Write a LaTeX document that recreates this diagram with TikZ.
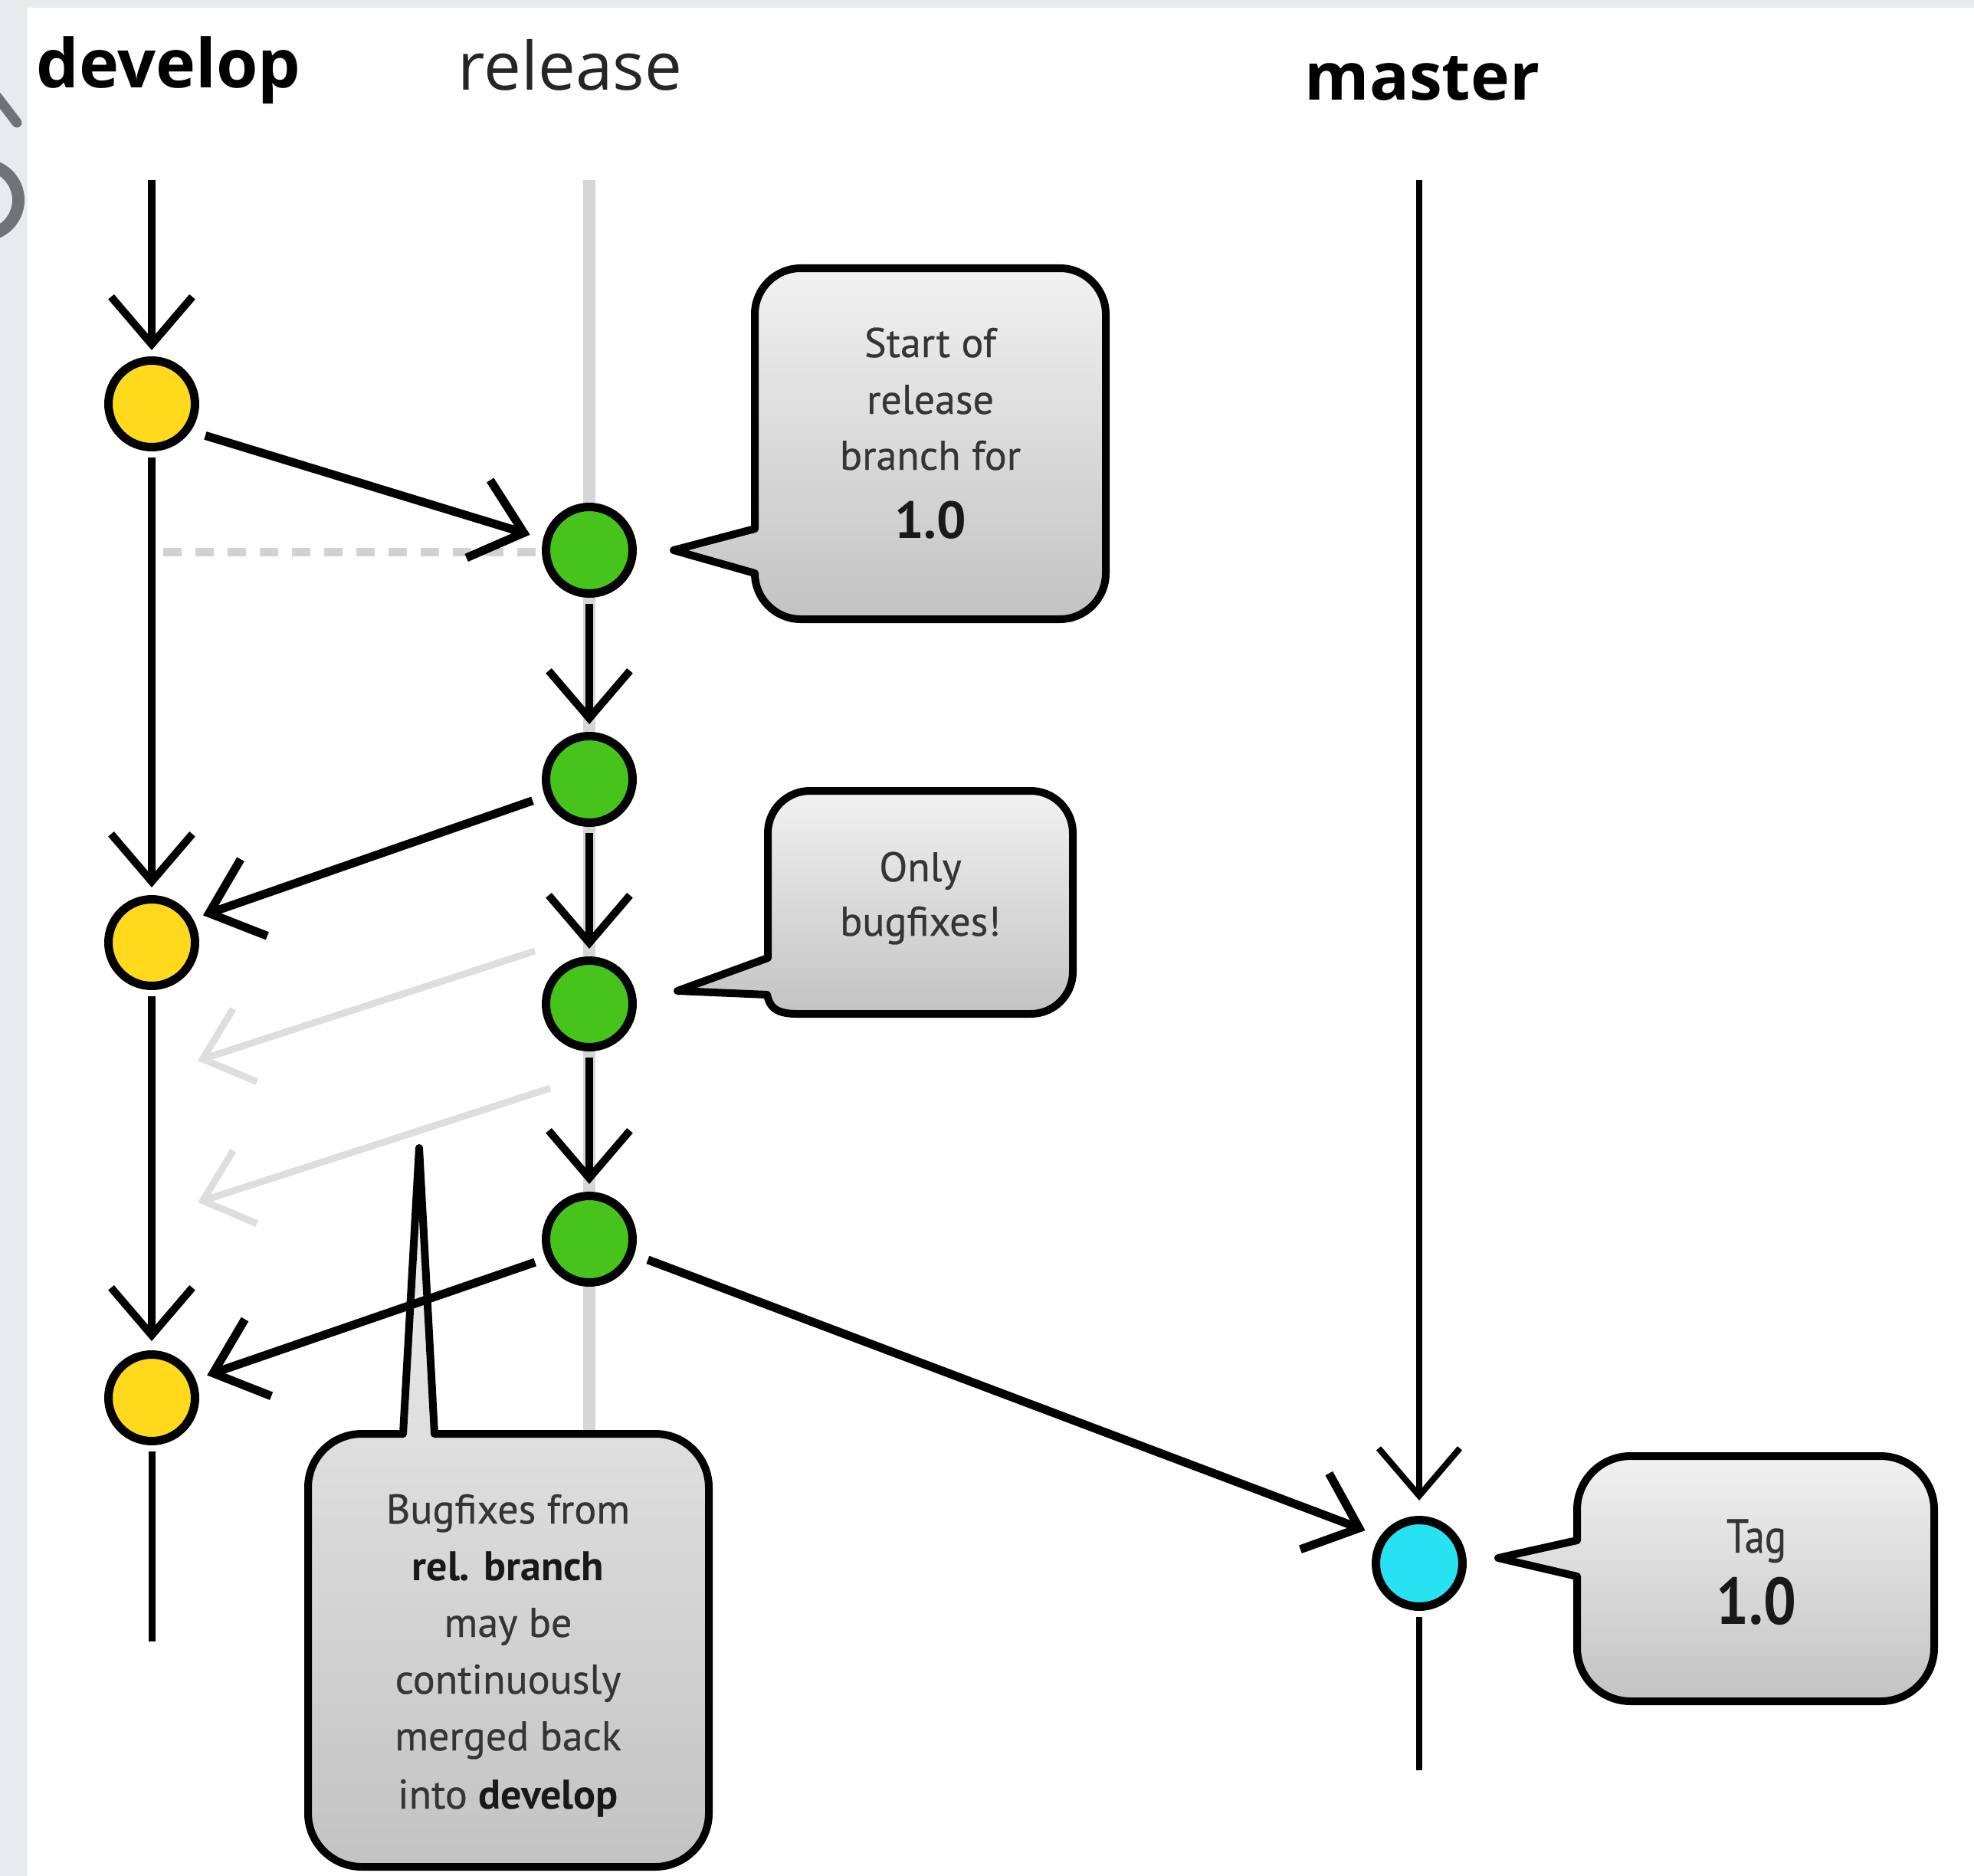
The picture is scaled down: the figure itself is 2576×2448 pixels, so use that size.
\documentclass[tikz,border=0pt]{standalone}
\usepackage{fontspec}
\usepackage{graphicx}
\setmainfont{PT Sans}[UprightFeatures={FakeBold=0.5}]
\newfontfamily\labelfont{Open Sans}
\usetikzlibrary{arrows.meta}
\definecolor{bgframe}{HTML}{E8EBEE}
\definecolor{devyellow}{HTML}{FFD91C}
\definecolor{relgreen}{HTML}{47C41B}
\definecolor{mastercyan}{HTML}{26E2F2}
\definecolor{relline}{HTML}{D6D6D6}
\definecolor{ghostarrow}{HTML}{DEDEDE}
\definecolor{dashgrey}{HTML}{D2D2D2}
\definecolor{calltop}{HTML}{F1F1F1}
\definecolor{callbot}{HTML}{C3C3C3}
\definecolor{calltext}{HTML}{353535}
\definecolor{ghosttext}{HTML}{707275}
\tikzset{
  commit/.style={circle, draw=black, line width=11pt, minimum size=113pt, inner sep=0pt},
  devc/.style={commit, fill=devyellow},
  relc/.style={commit, fill=relgreen},
  masc/.style={commit, fill=mastercyan},
  flow/.style={black, line width=10pt, -{Straight Barb[length=62pt,width=106pt]}},
  plainline/.style={black, line width=9pt},
  ghostflow/.style={ghostarrow, line width=9pt, -{Straight Barb[length=58pt,width=100pt]}},
  bubble/.style={draw=black, line width=10pt, line join=round, top color=calltop, bottom color=callbot},
  calltxt/.style={font=\fontsize{54}{60}\selectfont, text=calltext, inner sep=0pt, anchor=base},
  branchlabel/.style={font=\labelfont\fontsize{87}{100}\selectfont, inner sep=0pt, anchor=base}
}
\begin{document}
\begin{tikzpicture}[x=1pt,y=-1pt]
\useasboundingbox (0,0) rectangle (2576,2448);
\fill[bgframe] (0,0) rectangle (2576,2448);
\begin{scope}
  \clip (0,0) rectangle (36,2448);
  \draw[ghosttext, line width=16pt] (-22,261) ellipse [x radius=46, y radius=46];
  \draw[ghosttext, line width=13pt, line cap=round] (-4,126) -- (22,160);
\end{scope}
\fill[white] (36,10) rectangle (2576,2448);

% branch labels
\node[branchlabel, font=\labelfont\bfseries\fontsize{88}{100}\selectfont] (ldev) at (220,115) {develop};
\node[branchlabel, text=black!85] (lrel) at (744,118) {release};
\node[branchlabel, font=\labelfont\bfseries\fontsize{86}{100}\selectfont] (lmas) at (1856,131) {master};

% free ends
\coordinate (dtop) at (198,235);
\coordinate (dbot) at (198,2142);
\coordinate (reltop) at (769,235);
\coordinate (relbot) at (769,1871);
\coordinate (mtop) at (1852,235);
\coordinate (mbot) at (1852,2310);
\coordinate (dashL) at (213,720);
\coordinate (dashR) at (700,720);
\coordinate (g1a) at (698,1241);
\coordinate (g1b) at (258,1384);
\coordinate (g2a) at (718,1420);
\coordinate (g2b) at (258,1569);

% grey release line, dashed start marker, ghost merges
\draw[relline, line width=16pt] (reltop) -- (relbot);
\draw[dashgrey, line width=11pt, dash pattern=on 24pt off 18pt] (dashL) -- (dashR);
\draw[ghostflow] (g1a) -- (g1b);
\draw[ghostflow] (g2a) -- (g2b);

% callouts
\path[bubble] (985,690) -- (985,410) arc[start angle=180,end angle=270,radius=60]
  -- (1383,350) arc[start angle=270,end angle=360,radius=60]
  -- (1443,748) arc[start angle=0,end angle=90,radius=60]
  -- (1045,808) arc[start angle=90,end angle=180,radius=60]
  -- (879,718) -- cycle;
\path[bubble] (1002,1250) -- (1002,1087) arc[start angle=180,end angle=270,radius=55]
  -- (1345,1032) arc[start angle=270,end angle=360,radius=55]
  -- (1400,1268) arc[start angle=0,end angle=90,radius=55]
  -- (1040,1323) .. controls (1010,1323) and (1004,1312) .. (1001,1298)
  -- (884,1293) -- cycle;
\path[bubble] (402,1941) arc[start angle=180,end angle=270,radius=70]
  -- (526,1871) -- (547,1498) -- (567,1871)
  -- (855,1871) arc[start angle=270,end angle=360,radius=70]
  -- (925,2366) arc[start angle=0,end angle=90,radius=70]
  -- (472,2436) arc[start angle=90,end angle=180,radius=70]
  -- cycle;
\path[bubble] (2058,2010) -- (2058,1970) arc[start angle=180,end angle=270,radius=70]
  -- (2454,1900) arc[start angle=270,end angle=360,radius=70]
  -- (2524,2150) arc[start angle=0,end angle=90,radius=70]
  -- (2128,2220) arc[start angle=90,end angle=180,radius=70]
  -- (2058,2057) -- (1955,2033) -- cycle;

% callout texts
\node[calltxt] (c1a) at (1214,466) {Start of};
\node[calltxt] (c1b) at (1214,540) {release};
\node[calltxt] (c1c) at (1214,613) {branch for};
\node[calltxt, font=\bfseries\fontsize{68}{76}\selectfont, text=black!90] (c1d) at (1214,702) {1.0};
\node[calltxt] (c2a) at (1201,1150) {Only};
\node[calltxt] (c2b) at (1201,1221) {bugfixes!};
\node[calltxt] (c3a) at (663,1988) {Bugfixes from};
\node[calltxt, text=black!90] (c3b) at (663,2062) {\bfseries rel. branch};
\node[calltxt] (c3c) at (663,2136) {may be};
\node[calltxt] (c3d) at (663,2210) {continuously};
\node[calltxt] (c3e) at (663,2284) {merged back};
\node[calltxt] (c3f) at (663,2360) {into \textcolor{black!90}{\bfseries develop}};
\node[calltxt, font=\fontsize{62}{70}\selectfont] (c4a) at (2292,2026) {\scalebox{0.85}[1]{Tag}};
\node[calltxt, font=\bfseries\fontsize{86}{96}\selectfont, text=black!90] (c4b) at (2292,2119) {\scalebox{0.88}[1]{1.0}};

% commits
\node[devc] (D1) at (198,527) {};
\node[devc] (D2) at (198,1230) {};
\node[devc] (D3) at (198,1824) {};
\node[relc] (R1) at (769,718) {};
\node[relc] (R2) at (769,1017) {};
\node[relc] (R3) at (769,1310) {};
\node[relc] (R4) at (769,1617) {};
\node[masc] (M) at (1852,2040) {};

% develop line
\draw[flow, shorten >=8pt] (dtop) -- (D1);
\draw[flow, shorten <=8pt, shorten >=10pt] (D1) -- (D2);
\draw[flow, shorten <=8pt, shorten >=12pt] (D2) -- (D3);
\draw[plainline, shorten <=8pt] (D3) -- (dbot);
% release commits
\draw[flow, shorten <=8pt, shorten >=10pt] (R1) -- (R2);
\draw[flow, shorten <=8pt, shorten >=10pt] (R2) -- (R3);
\draw[flow, shorten <=8pt, shorten >=10pt] (R3) -- (R4);
% master line
\draw[flow, line width=8pt, shorten >=20pt] (mtop) -- (M);
\draw[plainline, line width=8pt, shorten <=8pt] (M) -- (mbot);
% merges
\draw[flow, line width=11pt, shorten <=20pt, shorten >=18pt] (D1.-35) -- (R1.166);
\draw[flow, line width=11pt, shorten <=17pt, shorten >=14pt] (R2.201) -- (D2.30);
\draw[flow, line width=11pt, shorten <=15pt, shorten >=16pt] (R4.204) -- (D3.23);
\draw[flow, line width=11pt, shorten <=19pt, shorten >=21pt] (R4.-19) -- (M.145);
\end{tikzpicture}
\end{document}
